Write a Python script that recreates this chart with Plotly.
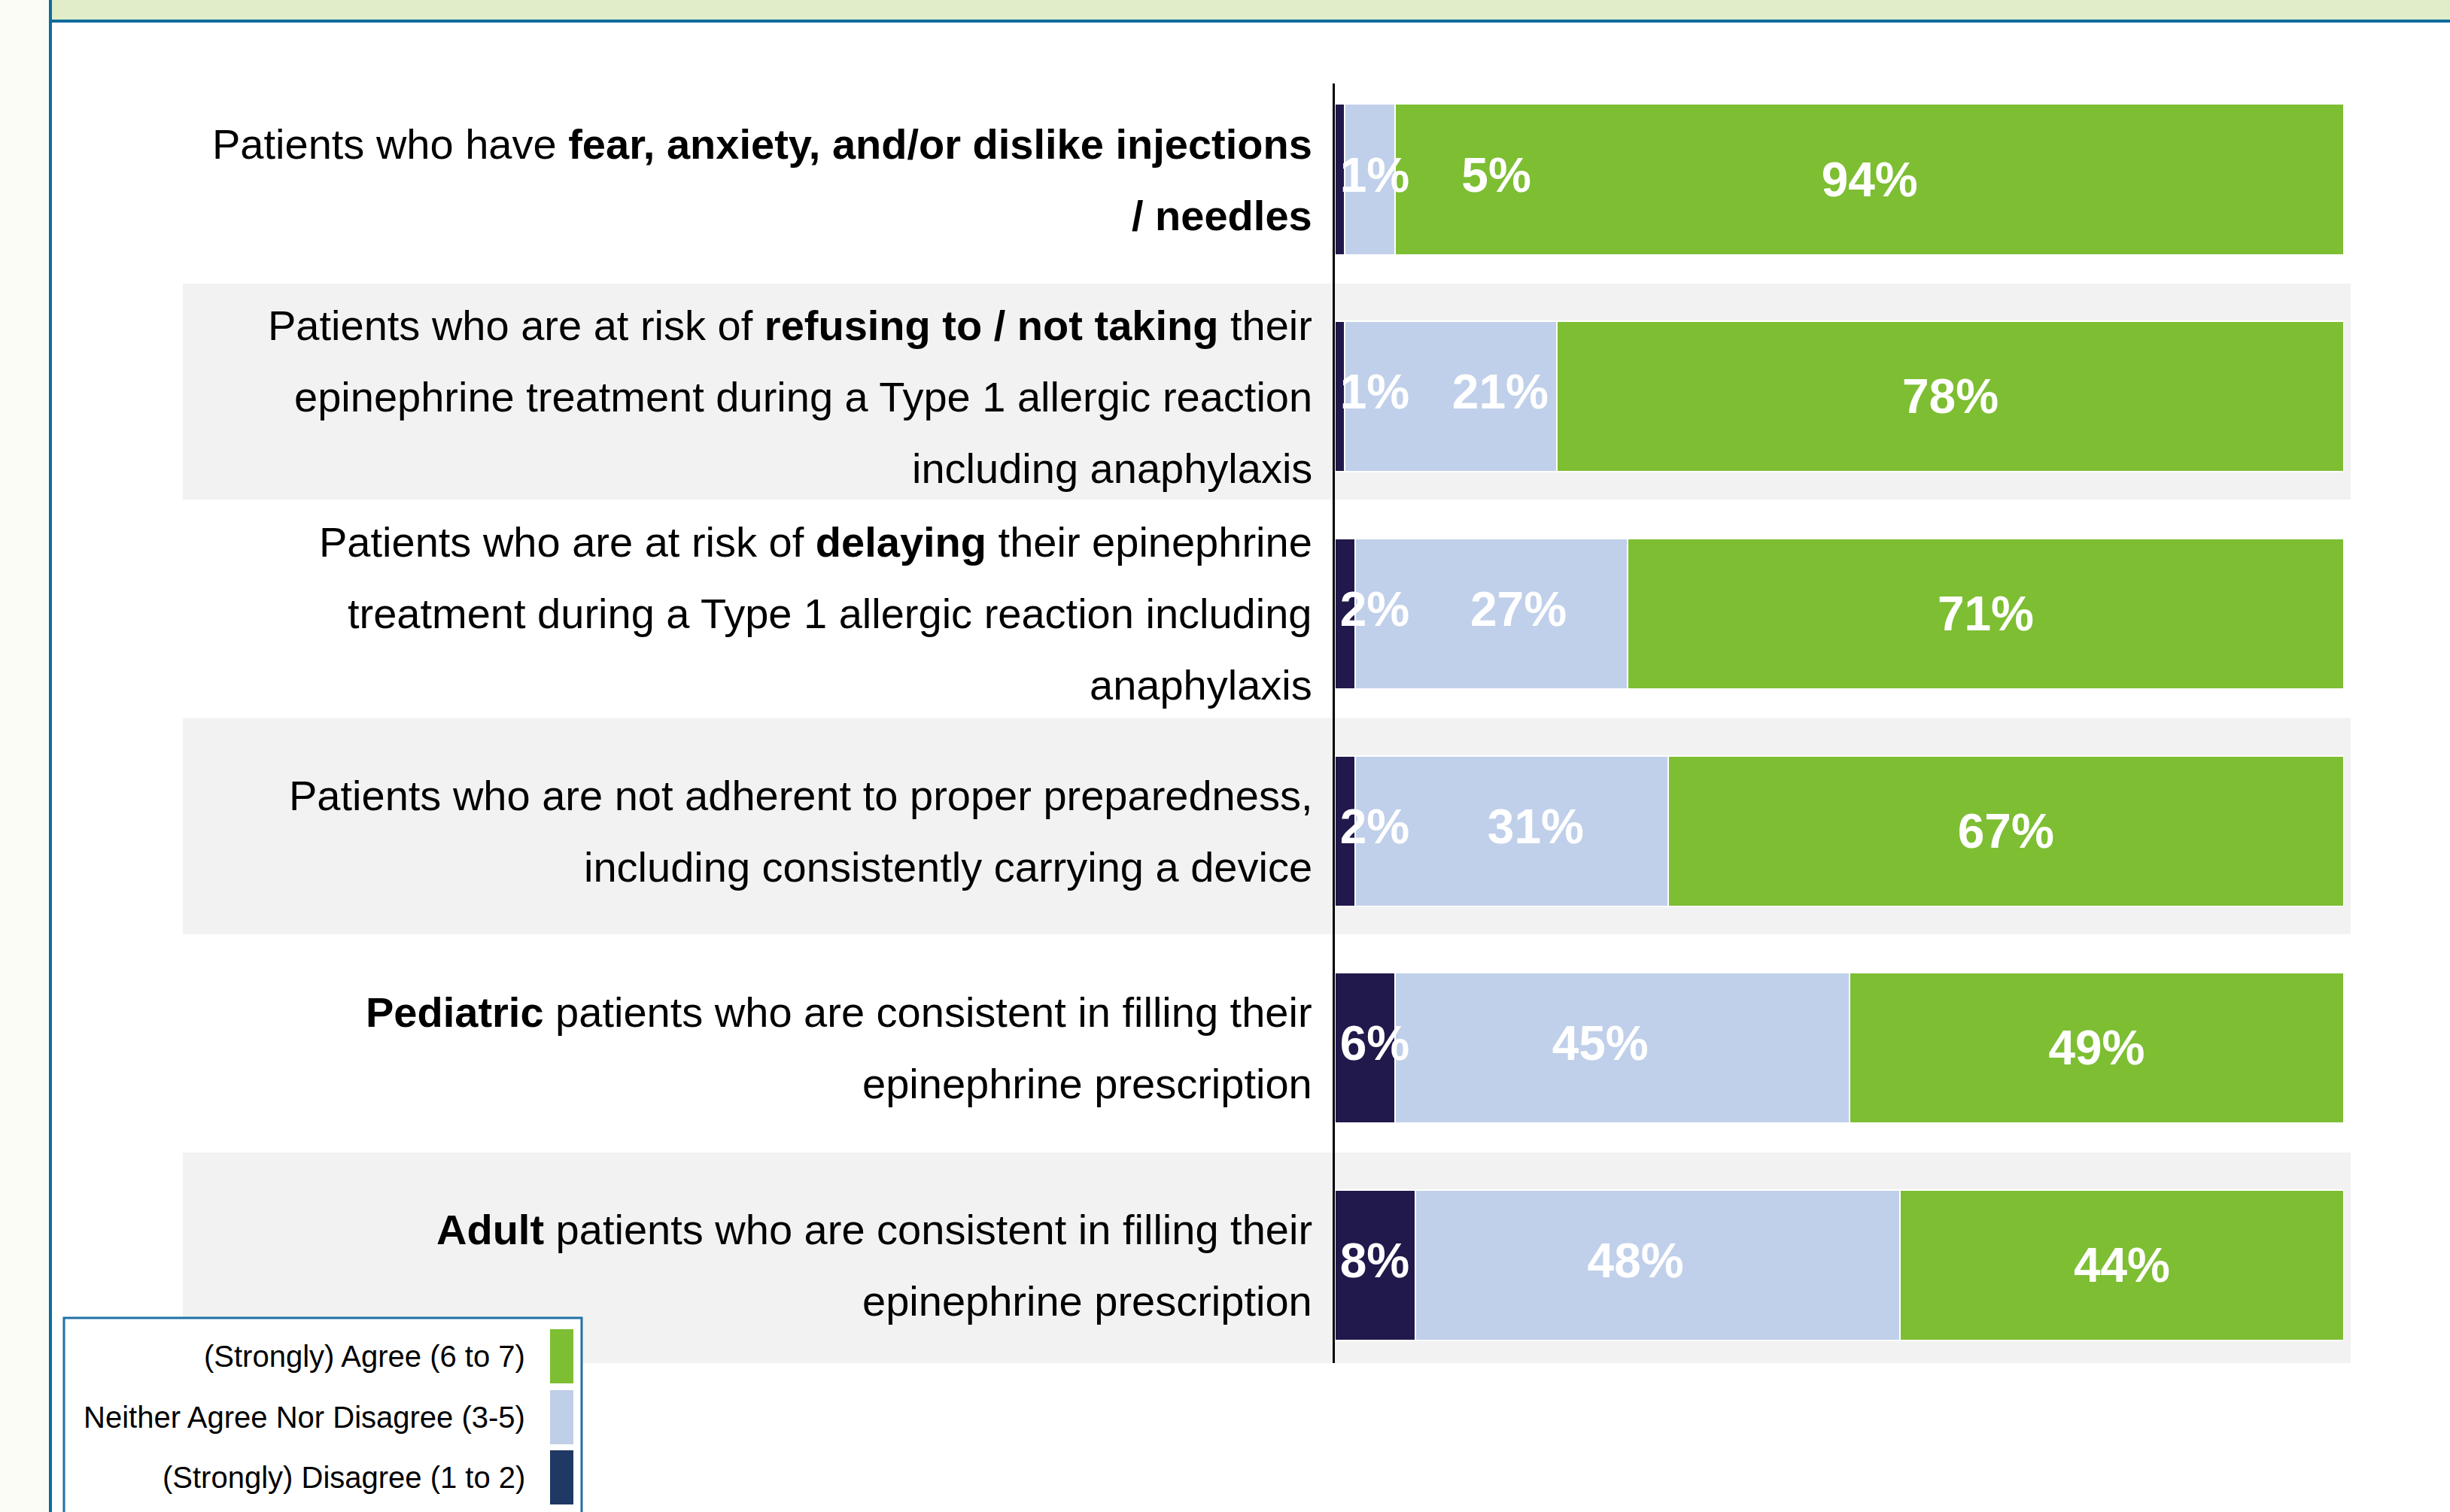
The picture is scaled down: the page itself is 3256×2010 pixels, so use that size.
import plotly.graph_objects as go

# ---------------- data ----------------
categories = [
    "Patients who have <b>fear, anxiety, and/or dislike injections</b><br><b>/ needles</b>",
    "Patients who are at risk of <b>refusing to / not taking</b> their<br>epinephrine treatment during a Type 1 allergic reaction<br>including anaphylaxis",
    "Patients who are at risk of <b>delaying</b> their epinephrine<br>treatment during a Type 1 allergic reaction including<br>anaphylaxis",
    "Patients who are not adherent to proper preparedness,<br>including consistently carrying a device",
    "<b>Pediatric</b> patients who are consistent in filling their<br>epinephrine prescription",
    "<b>Adult</b> patients who are consistent in filling their<br>epinephrine prescription",
]
disagree = [1, 1, 2, 2, 6, 8]
neither = [5, 21, 27, 31, 45, 48]
agree = [94, 78, 71, 67, 49, 44]

legend_labels = ["(Strongly) Agree (6 to 7)", "Neither Agree Nor Disagree (3-5)", "(Strongly) Disagree (1 to 2)"]

# placement of the value labels (percent units)
neither_label_x = [16.0, 16.4, 18.2, 19.9, 26.3, 29.8]
DARK_LABEL_X = 0.5

# ---------------- styling ----------------
FONT = "Liberation Sans, Arial, sans-serif"
C_GREEN = "#7DBE33"
C_LIGHT = "#C0D0EA"
C_DARK = "#21194B"
LEG_COLORS = ["#7DBE33", "#BFCFE8", "#1F3864"]

W, H = 3256, 2010
OFF = 0  # body margin is removed by the post script below
# plot-area edges in page pixels
PX_L, PX_R, PX_T, PX_B = 1774, 3115, 111, 1812
ML, MR = PX_L - OFF, W - (PX_R - OFF)
MT, MB = PX_T - OFF, H - (PX_B - OFF)
PW, PH = W - ML - MR, H - MT - MB


def px_x(p):
    return (p - OFF - ML) / PW


def px_y(p):
    return 1 - (p - OFF - MT) / PH


BAR_W = 0.693
LABEL_SIZE = 56
LINE_GAP = 95
VAL_SIZE = 64

fig = go.Figure()

fig.add_trace(go.Bar(
    y=categories, x=disagree, orientation="h", width=BAR_W, name=legend_labels[2],
    marker=dict(color=C_DARK, line=dict(color="white", width=2)),
    showlegend=False, hoverinfo="skip",
))
fig.add_trace(go.Bar(
    y=categories, x=neither, orientation="h", width=BAR_W, name=legend_labels[1],
    marker=dict(color=C_LIGHT, line=dict(color="white", width=2)),
    showlegend=False, hoverinfo="skip",
))
fig.add_trace(go.Bar(
    y=categories, x=agree, orientation="h", width=BAR_W, name=legend_labels[0],
    marker=dict(color=C_GREEN, line=dict(color="white", width=2)),
    text=[f"<b>{v}%</b>" for v in agree], textposition="inside",
    insidetextanchor="middle", constraintext="none", textangle=0,
    textfont=dict(family=FONT, size=VAL_SIZE, color="white"),
    showlegend=False, hoverinfo="skip",
))
# value labels for the small segments, drawn on top of all bars
fig.add_trace(go.Scatter(
    y=categories, x=[DARK_LABEL_X] * len(categories), mode="text",
    text=[f"<b>{v}%</b>" for v in disagree], textposition="middle right",
    textfont=dict(family=FONT, size=VAL_SIZE, color="white"),
    cliponaxis=False, showlegend=False, hoverinfo="skip",
))
fig.add_trace(go.Scatter(
    y=categories, x=neither_label_x, mode="text",
    text=[f"<b>{v}%</b>" for v in neither],
    textfont=dict(family=FONT, size=VAL_SIZE, color="white"),
    cliponaxis=False, showlegend=False, hoverinfo="skip",
))

shapes = []
# slide frame
shapes.append(dict(type="rect", xref="paper", yref="paper", x0=px_x(0), x1=px_x(65), y0=px_y(0), y1=px_y(H + 20),
                   fillcolor="#FBFCF6", line=dict(width=0), layer="below"))
shapes.append(dict(type="rect", xref="paper", yref="paper", x0=px_x(69), x1=px_x(W + 20), y0=px_y(0), y1=px_y(26),
                   fillcolor="#E1EDC8", line=dict(width=0), layer="below"))
shapes.append(dict(type="rect", xref="paper", yref="paper", x0=px_x(65), x1=px_x(W + 20), y0=px_y(26), y1=px_y(30),
                   fillcolor="#0E6C9E", line=dict(width=0), layer="below"))
shapes.append(dict(type="rect", xref="paper", yref="paper", x0=px_x(65), x1=px_x(69), y0=px_y(0), y1=px_y(H + 20),
                   fillcolor="#0E6C9E", line=dict(width=0), layer="below"))
# alternating row bands
for i in range(len(categories)):
    if i % 2 == 1:
        shapes.append(dict(type="rect", xref="paper", yref="y", x0=px_x(243), x1=px_x(3124),
                           y0=i - 0.52, y1=i + 0.475, fillcolor="#F2F2F2",
                           line=dict(width=0), layer="below"))

annotations = []
# category labels, one annotation per line so that the line spacing matches
for i, cat in enumerate(categories):
    lines = cat.split("<br>")
    n = len(lines)
    for k, line in enumerate(lines):
        annotations.append(dict(
            xref="paper", yref="y", x=px_x(1746), y=i, text=line,
            xanchor="right", yanchor="middle", showarrow=False,
            yshift=-(k - (n - 1) / 2) * LINE_GAP,
            font=dict(family=FONT, size=LABEL_SIZE, color="black")))

# legend box
shapes.append(dict(type="rect", xref="paper", yref="paper", x0=px_x(85), x1=px_x(773),
                   y0=px_y(1752), y1=px_y(2060), fillcolor="white",
                   line=dict(color="#1F70A6", width=3), layer="above"))
sw_centers = [1803, 1884, 1964]
for lab, col, cy in zip(legend_labels, LEG_COLORS, sw_centers):
    shapes.append(dict(type="rect", xref="paper", yref="paper", x0=px_x(731), x1=px_x(762),
                       y0=px_y(cy - 36), y1=px_y(cy + 36), fillcolor=col,
                       line=dict(width=0), layer="above"))
    annotations.append(dict(xref="paper", yref="paper", x=px_x(700), y=px_y(cy), text=lab,
                            xanchor="right", yanchor="middle", showarrow=False,
                            font=dict(family=FONT, size=40, color="black")))

fig.update_layout(
    width=W, height=H,
    margin=dict(l=ML, r=MR, t=MT, b=MB, pad=0, autoexpand=False),
    paper_bgcolor="white", plot_bgcolor="rgba(0,0,0,0)",
    barmode="stack",
    shapes=shapes, annotations=annotations,
    font=dict(family=FONT, color="black"),
    xaxis=dict(range=[0, 100], visible=False, fixedrange=True, automargin=False),
    yaxis=dict(type="category", categoryorder="array", categoryarray=categories,
               range=[5.45, -0.4416], showgrid=False, zeroline=False,
               showline=True, linecolor="black", linewidth=3, ticks="",
               showticklabels=False, automargin=False),
)

fig.write_html("out.html", config={"displayModeBar": False},
               post_script="document.body.style.margin='0px';document.body.style.overflow='hidden';")
